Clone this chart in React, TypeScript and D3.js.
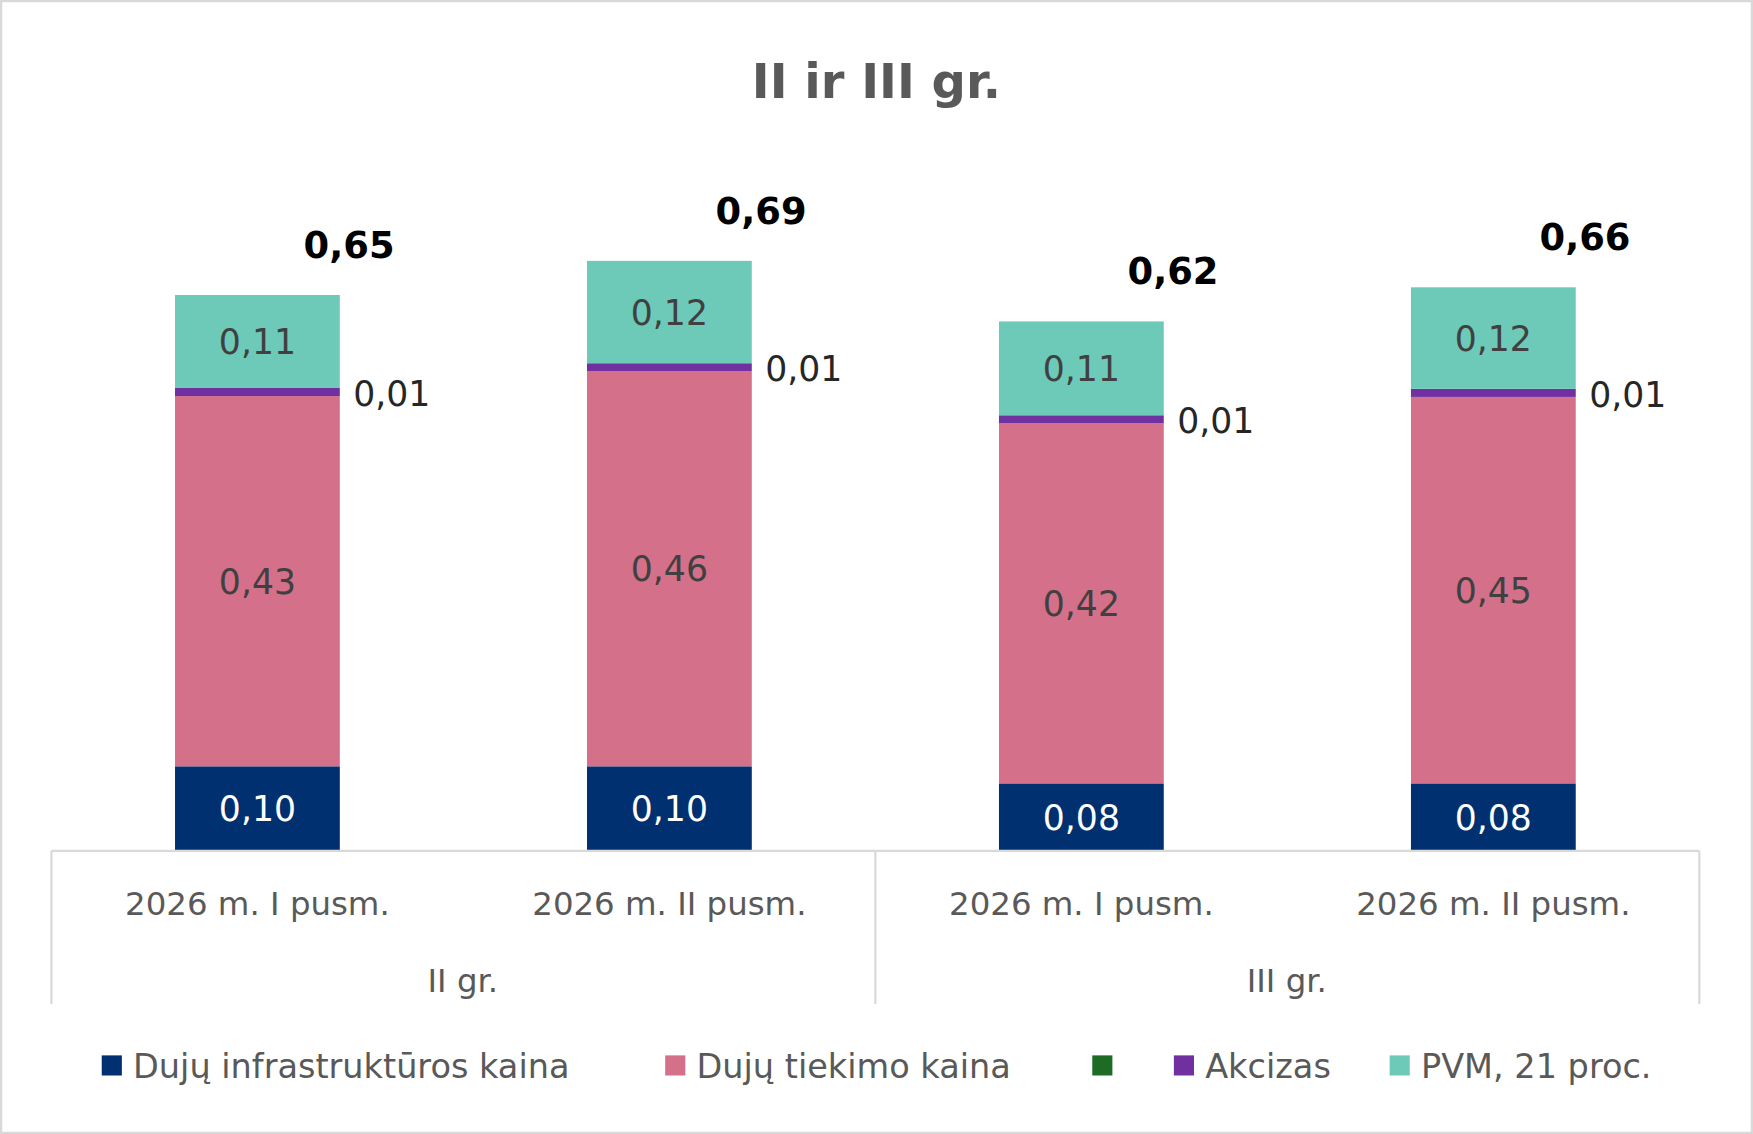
import React from "react";
import * as d3 from "d3";

const categories = ["2026 m. I pusm.", "2026 m. II pusm.", "2026 m. I pusm.", "2026 m. II pusm."];
const groups = ["II gr.", "III gr."];
const seriesNames = ["Dujų infrastruktūros kaina", "Dujų tiekimo kaina", "", "Akcizas", "PVM, 21 proc."];
const infra = [0.099, 0.099, 0.079, 0.079];
const tiekimo = [0.434, 0.463, 0.422, 0.453];
const green = [0, 0, 0, 0];
const akcizas = [0.0095, 0.0095, 0.0095, 0.0095];
const pvm = [0.109, 0.12, 0.11, 0.119];
const infraLabels = ["0,10", "0,10", "0,08", "0,08"];
const tiekimoLabels = ["0,43", "0,46", "0,42", "0,45"];
const akcizasLabels = ["0,01", "0,01", "0,01", "0,01"];
const pvmLabels = ["0,11", "0,12", "0,11", "0,12"];
const totalLabels = ["0,65", "0,69", "0,62", "0,66"];
const colors = ["#00306f", "#d4708a", "#1e6b26", "#7030a0", "#6dcab9"];

const S = 1753 / 1568;
const FONT = "'DejaVu Sans', Verdana, sans-serif";

export default function App() {
  const series = [infra, tiekimo, green, akcizas, pvm];
  const x = d3.scaleBand<number>().domain([0, 1, 2, 3]).range([46, 1520]).paddingInner(0.6).paddingOuter(0.3);
  const y = d3.scaleLinear().domain([0, 0.65]).range([761, 265]);
  const stackData = categories.map((_, i) => ({ i, s0: infra[i], s1: tiekimo[i], s2: green[i], s3: akcizas[i], s4: pvm[i] }));
  const stacked = d3.stack<any>().keys(["s0", "s1", "s2", "s3", "s4"])(stackData);
  const bw = x.bandwidth();
  return (
    <svg width={1753} height={1134} style={{ position: "absolute", left: 0, top: 0, background: "#fff" }}>
      <rect x={1} y={1} width={1751} height={1132} fill="#fff" stroke="#d9d9d9" strokeWidth={2.5} />
      <g transform={`scale(${S})`} fontFamily={FONT}>
        <text x={784} y={88} textAnchor="middle" fontSize={43} fontWeight="bold" fill="#595959">II ir III gr.</text>
        {stacked.map((layer, k) => (
          <g key={k} fill={colors[k]}>
            {layer.map((d, i) => (
              <rect key={i} x={x(i)!} width={bw} y={y(d[1])} height={Math.max(0, y(d[0]) - y(d[1]))} />
            ))}
          </g>
        ))}
        {categories.map((_, i) => {
          const cx = x(i)! + bw / 2;
          const top = y(stacked[4][i][1]);
          return (
            <g key={i}>
              <text x={cx} y={(y(stacked[0][i][0]) + y(stacked[0][i][1])) / 2} dy="0.36em" textAnchor="middle" fontSize={31} fill="#fff">{infraLabels[i]}</text>
              <text x={cx} y={(y(stacked[1][i][0]) + y(stacked[1][i][1])) / 2} dy="0.36em" textAnchor="middle" fontSize={31} fill="#404040">{tiekimoLabels[i]}</text>
              <text x={cx} y={(y(stacked[4][i][0]) + y(stacked[4][i][1])) / 2} dy="0.36em" textAnchor="middle" fontSize={31} fill="#404040">{pvmLabels[i]}</text>
              <text x={x(i)! + bw + 12} y={y(stacked[3][i][1]) + 5} dy="0.36em" fontSize={31} fill="#262626">{akcizasLabels[i]}</text>
              <text x={cx + 82} y={top - 45} dy="0.36em" textAnchor="middle" fontSize={33} fontWeight="bold" fill="#000">{totalLabels[i]}</text>
              <text x={cx} y={808} dy="0.36em" textAnchor="middle" fontSize={29} fill="#595959">{categories[i]}</text>
            </g>
          );
        })}
        <g stroke="#d9d9d9" strokeWidth={2}>
          <line x1={46} x2={1520} y1={761} y2={761} />
          {[46, 783, 1520].map((v) => <line key={v} x1={v} x2={v} y1={761} y2={898} />)}
        </g>
        {groups.map((g, j) => (
          <text key={j} x={j === 0 ? 414 : 1151} y={877} dy="0.36em" textAnchor="middle" fontSize={29} fill="#595959">{g}</text>
        ))}
        {seriesNames.map((n, k) => {
          const lx = [91, 595, 977, 1050, 1243][k];
          return (
            <g key={k}>
              <rect x={lx} y={944} width={18} height={18} fill={colors[k]} />
              <text x={lx + 28} y={953} dy="0.36em" fontSize={30} fill="#595959">{n}</text>
            </g>
          );
        })}
      </g>
    </svg>
  );
}
